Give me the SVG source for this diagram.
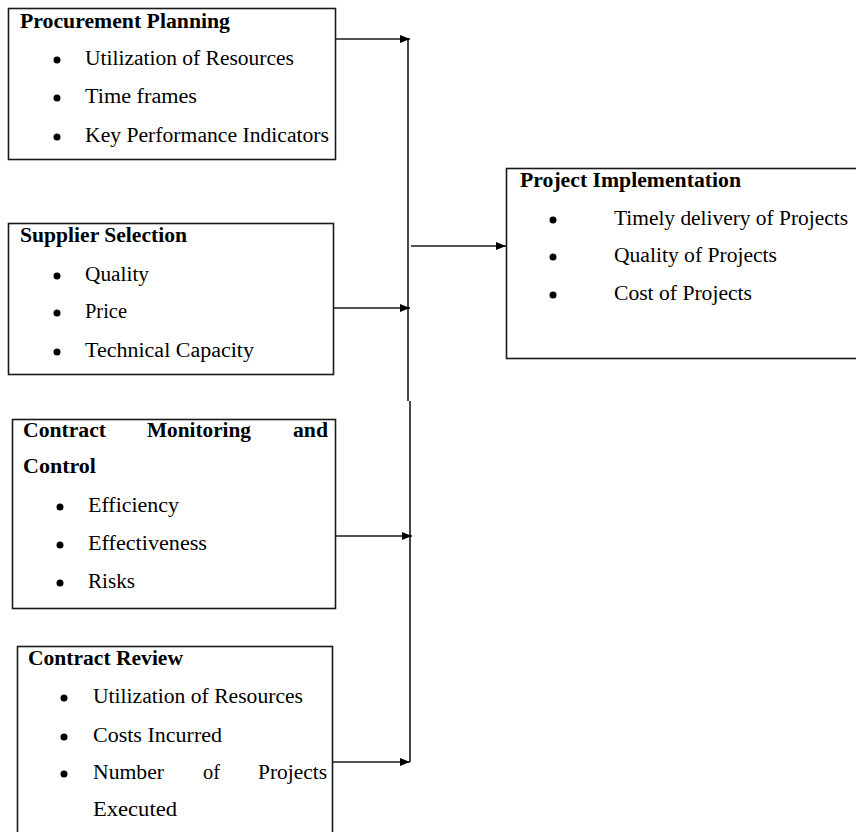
<svg xmlns="http://www.w3.org/2000/svg" width="856" height="832" viewBox="0 0 856 832">
<defs>
<style>
.box{fill:#fff;stroke:#1a1a1a;stroke-width:1.6}
.t{font-family:"Liberation Serif","Times New Roman",serif;font-size:20px;fill:#000}
.b{font-weight:bold}
.dot{fill:#000}
.ln{fill:none;stroke:#1a1a1a;stroke-width:1.6}
</style>
<marker id="ah" markerWidth="10" markerHeight="8" refX="10" refY="4" orient="auto" markerUnits="userSpaceOnUse">
<path d="M0,0 L10,4 L0,8 Z" fill="#000"/>
</marker>
</defs>
<rect width="856" height="832" fill="#fff"/>

<g id="procurement-planning">
<rect class="box" x="8.5" y="8.5" width="327" height="151"/>
<text class="t b" x="20" y="28" textLength="210" lengthAdjust="spacingAndGlyphs">Procurement Planning</text>
<circle class="dot" cx="57" cy="60" r="3.5"/>
<text class="t" x="85" y="65" textLength="209" lengthAdjust="spacingAndGlyphs">Utilization of Resources</text>
<circle class="dot" cx="57" cy="98" r="3.5"/>
<text class="t" x="85" y="103" textLength="112" lengthAdjust="spacingAndGlyphs">Time frames</text>
<circle class="dot" cx="57" cy="137" r="3.5"/>
<text class="t" x="85" y="142" textLength="244" lengthAdjust="spacingAndGlyphs">Key Performance Indicators</text>
</g>

<g id="supplier-selection">
<rect class="box" x="8.5" y="223.5" width="325" height="151"/>
<text class="t b" x="20" y="242" textLength="167" lengthAdjust="spacingAndGlyphs">Supplier Selection</text>
<circle class="dot" cx="57" cy="276" r="3.5"/>
<text class="t" x="85" y="281" textLength="64" lengthAdjust="spacingAndGlyphs">Quality</text>
<circle class="dot" cx="57" cy="313" r="3.5"/>
<text class="t" x="85" y="318" textLength="42" lengthAdjust="spacingAndGlyphs">Price</text>
<circle class="dot" cx="57" cy="352" r="3.5"/>
<text class="t" x="85" y="357" textLength="169" lengthAdjust="spacingAndGlyphs">Technical Capacity</text>
</g>

<g id="contract-monitoring">
<rect class="box" x="12.5" y="419.5" width="323" height="189"/>
<text class="t b" x="23" y="437" textLength="83" lengthAdjust="spacingAndGlyphs">Contract</text>
<text class="t b" x="147" y="437" textLength="104" lengthAdjust="spacingAndGlyphs">Monitoring</text>
<text class="t b" x="293" y="437" textLength="35" lengthAdjust="spacingAndGlyphs">and</text>
<text class="t b" x="23" y="473" textLength="73" lengthAdjust="spacingAndGlyphs">Control</text>
<circle class="dot" cx="60" cy="507" r="3.5"/>
<text class="t" x="88" y="512" textLength="91" lengthAdjust="spacingAndGlyphs">Efficiency</text>
<circle class="dot" cx="60" cy="545" r="3.5"/>
<text class="t" x="88" y="550" textLength="119" lengthAdjust="spacingAndGlyphs">Effectiveness</text>
<circle class="dot" cx="60" cy="583" r="3.5"/>
<text class="t" x="88" y="588" textLength="47" lengthAdjust="spacingAndGlyphs">Risks</text>
</g>

<g id="contract-review">
<rect class="box" x="17.5" y="646.5" width="315" height="200"/>
<text class="t b" x="28" y="665" textLength="155" lengthAdjust="spacingAndGlyphs">Contract Review</text>
<circle class="dot" cx="64" cy="698" r="3.5"/>
<text class="t" x="93" y="703" textLength="210" lengthAdjust="spacingAndGlyphs">Utilization of Resources</text>
<circle class="dot" cx="64" cy="737" r="3.5"/>
<text class="t" x="93" y="742" textLength="129" lengthAdjust="spacingAndGlyphs">Costs Incurred</text>
<circle class="dot" cx="64" cy="774" r="3.5"/>
<text class="t" x="93" y="779" textLength="71" lengthAdjust="spacingAndGlyphs">Number</text>
<text class="t" x="203" y="779" textLength="17" lengthAdjust="spacingAndGlyphs">of</text>
<text class="t" x="258" y="779" textLength="69" lengthAdjust="spacingAndGlyphs">Projects</text>
<text class="t" x="93" y="816" textLength="84" lengthAdjust="spacingAndGlyphs">Executed</text>
</g>

<g id="project-implementation">
<rect class="box" x="506.5" y="168.5" width="360" height="190"/>
<text class="t b" x="520" y="187" textLength="221" lengthAdjust="spacingAndGlyphs">Project Implementation</text>
<circle class="dot" cx="553" cy="220" r="3.5"/>
<text class="t" x="614" y="225" textLength="234" lengthAdjust="spacingAndGlyphs">Timely delivery of Projects</text>
<circle class="dot" cx="553" cy="257" r="3.5"/>
<text class="t" x="614" y="262" textLength="163" lengthAdjust="spacingAndGlyphs">Quality of Projects</text>
<circle class="dot" cx="553" cy="295" r="3.5"/>
<text class="t" x="614" y="300" textLength="138" lengthAdjust="spacingAndGlyphs">Cost of Projects</text>
</g>

<g id="connectors">
<path class="ln" d="M408,38 V401"/>
<path class="ln" d="M410,401 V762"/>
<path class="ln" d="M336,39 H410" marker-end="url(#ah)"/>
<path class="ln" d="M334,308 H410" marker-end="url(#ah)"/>
<path class="ln" d="M336,536 H412" marker-end="url(#ah)"/>
<path class="ln" d="M333,762 H410" marker-end="url(#ah)"/>
<path class="ln" d="M411,246 H506" marker-end="url(#ah)"/>
</g>
</svg>
